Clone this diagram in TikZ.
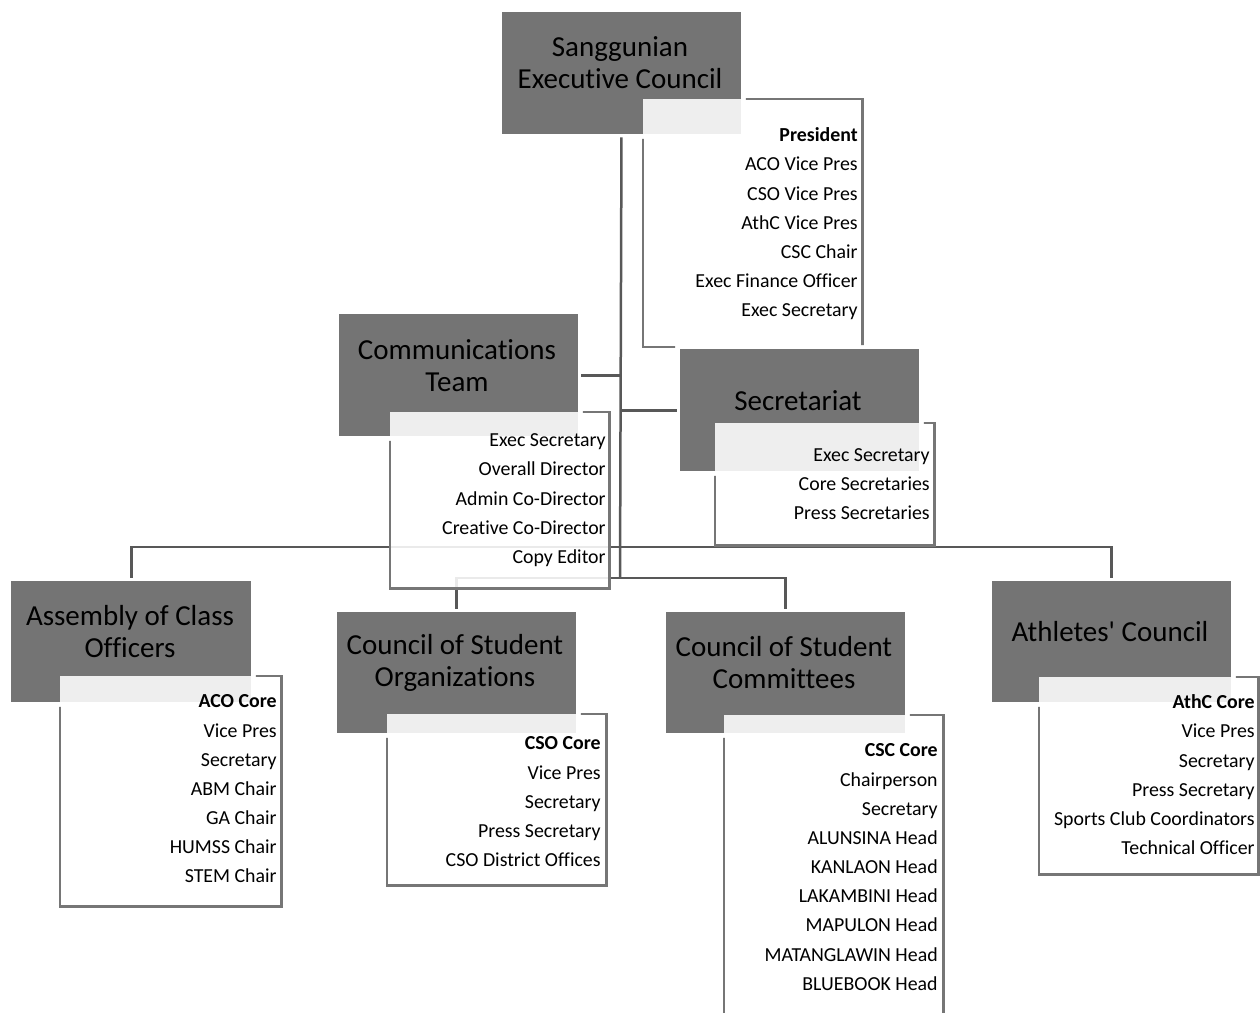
\documentclass[tikz,border=0pt]{standalone}
\usepackage{fontspec}
\setmainfont{Carlito}[Ligatures={TeX,NoCommon}]
\usetikzlibrary{positioning}

\pgfdeclarelayer{lines}
\pgfdeclarelayer{heads}
\pgfsetlayers{lines,heads,main}

\definecolor{headgray}{RGB}{116,116,116}
\definecolor{framegray}{RGB}{118,118,118}
\definecolor{linkgray}{RGB}{88,88,88}

\tikzset{
	headbox/.style={rectangle, fill=headgray, draw=white, line width=0.06cm, minimum width=4.86cm, minimum height=2.5cm, anchor=north west, inner sep=0pt},
	headtext/.style={align=center, font=\fontsize{16.5}{18.2}\selectfont, inner sep=0pt},
	listbox/.style={rectangle, anchor=north west, inner sep=0pt},
	listline/.style={draw=framegray, line width=0.05cm},
	listtext/.style={align=right, anchor=north east, font=\fontsize{11.3}{16.6}\selectfont, inner sep=0pt},
	link/.style={draw=linkgray, line width=0.05cm},
	veil/.style={fill=white, fill opacity=0.88}
}

\begin{document}
\begin{tikzpicture}[x=0.02cm, y=-0.02cm]
	\useasboundingbox (0,0) rectangle (1260,1013);
	
	\node[listbox, minimum width=4.38cm, minimum height=4.95cm] (secList) at (643,99) {};
	\node[listbox, minimum width=4.38cm, minimum height=2.44cm] (secrList) at (715,423) {};
	\node[listbox, minimum width=4.38cm, minimum height=3.52cm] (commList) at (390,412) {};
	\node[listbox, minimum width=4.42cm, minimum height=4.6cm] (acoList) at (60,676) {};
	\node[listbox, minimum width=4.38cm, minimum height=3.42cm] (csoList) at (387,714) {};
	\node[listbox, minimum width=4.38cm, minimum height=6.02cm] (cscList) at (724,715) {};
	\node[listbox, minimum width=4.38cm, minimum height=3.94cm] (athcList) at (1039,677) {};
	
	\begin{pgfonlayer}{heads}
		\node[headbox] (sec) at (498.5,9.5) {};
		\node[headbox] (comm) at (335.5,311.5) {};
		\node[headbox] (secr) at (676.5,346.5) {};
		\node[headbox] (aco) at (8.5,577.5) {};
		\node[headbox] (cso) at (333.5,608.5) {};
		\node[headbox] (csc) at (662.5,608.5) {};
		\node[headbox] (athc) at (988.5,577.5) {};
		\foreach \l in {secList,secrList,commList,acoList,csoList,cscList,athcList}
			\fill[veil] (\l.north west) rectangle (\l.south east);
	\end{pgfonlayer}
	
	\coordinate (bus) at (620,547);
	\coordinate (hub) at (620,578);
	\begin{pgfonlayer}{lines}
		\draw[link] (sec.south) -- (hub);
		\draw[link] (comm.east) -- (comm.east -| hub);
		\draw[link] (secr.west -| hub) -- (secr.west);
		\draw[link] (aco.north) -- (aco.north |- bus) -- (athc.north |- bus) -- (athc.north);
		\draw[link] (cso.north) -- (cso.north |- hub) -- (csc.north |- hub) -- (csc.north);
	\end{pgfonlayer}
	
	\begin{scope}[even odd rule]
		\clip (0,0) rectangle (1260,1013)
			\foreach \h in {sec,comm,secr,aco,cso,csc,athc} {([shift={(-1.5,-1.5)}]\h.north west) rectangle ([shift={(1.5,1.5)}]\h.south east)};
		\foreach \l in {secList,secrList,commList,acoList,csoList,cscList,athcList}
			\draw[listline] (\l.north west) rectangle (\l.south east);
	\end{scope}
	
	\node[headtext] (secT) at (620,63) {Sanggunian\\Executive Council};
	\node[headtext] (commT) at (457,366) {Communications\\Team};
	\node[headtext] (secrT) at (798,401) {Secretariat};
	\node[headtext] (acoT) at (130,632) {Assembly of Class\\Officers};
	\node[headtext] (csoT) at (455,663) {Council of Student\\Organizations};
	\node[headtext] (cscT) at (784,663) {Council of Student\\Committees};
	\node[headtext] (athcT) at (1110,632) {Athletes\textquotesingle{} Council};
	
	\node[listtext] (secItems) at (858,127.5) {\textbf{President}\\ACO Vice Pres\\CSO Vice Pres\\AthC Vice Pres\\CSC Chair\\Exec Finance Officer\\Exec Secretary};
	\node[listtext] (secrItems) at (930,448) {Exec Secretary\\Core Secretaries\\Press Secretaries};
	\node[listtext] (commItems) at (606,433.5) {Exec Secretary\\Overall Director\\Admin Co-Director\\Creative Co-Director\\Copy Editor};
	\node[listtext] (acoItems) at (277,694.5) {\textbf{ACO Core}\\Vice Pres\\Secretary\\ABM Chair\\GA Chair\\HUMSS Chair\\STEM Chair};
	\node[listtext] (csoItems) at (601,736.5) {\textbf{CSO Core}\\Vice Pres\\Secretary\\Press Secretary\\CSO District Offices};
	\node[listtext] (cscItems) at (938,743.5) {\textbf{CSC Core}\\Chairperson\\Secretary\\ALUNSINA Head\\KANLAON Head\\LAKAMBINI Head\\MAPULON Head\\MATANGLAWIN Head\\BLUEBOOK Head};
	\node[listtext] (athcItems) at (1255,694.5) {\textbf{AthC Core}\\Vice Pres\\Secretary\\Press Secretary\\Sports Club Coordinators\\Technical Officer};
\end{tikzpicture}
\end{document}
